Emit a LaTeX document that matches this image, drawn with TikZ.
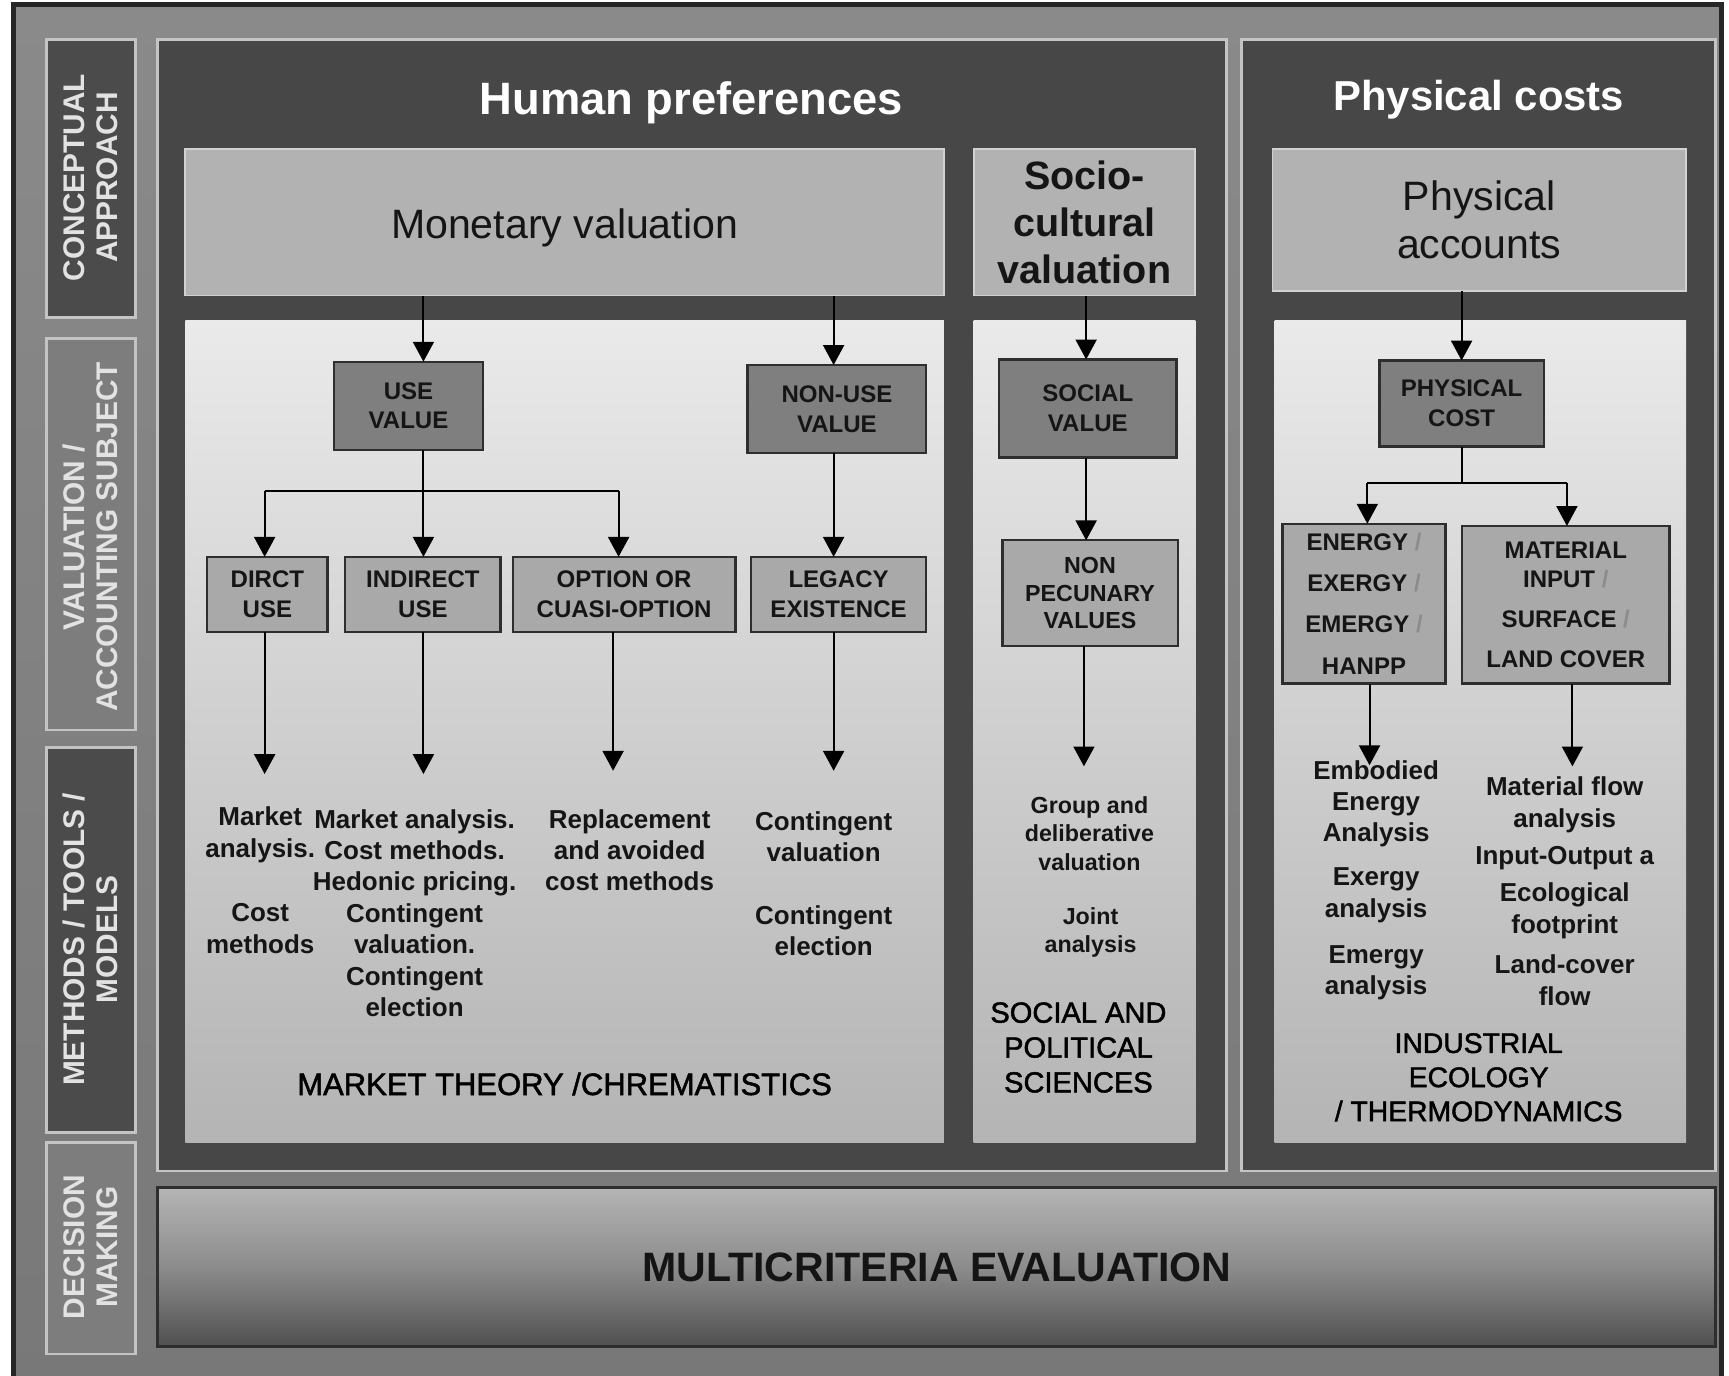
\documentclass[tikz,border=0pt]{standalone}
\usepackage{fontspec}
\setmainfont{Liberation Sans}
\newfontfamily\heavyfont[FakeBold=1.6]{Liberation Sans}
\usetikzlibrary{arrows.meta,calc}
\definecolor{outertop}{HTML}{8A8A8A}
\definecolor{outerbot}{HTML}{787878}
\definecolor{darkpanel}{HTML}{474747}
\definecolor{panelline}{HTML}{C4C4C4}
\definecolor{titlefill}{HTML}{B2B2B2}
\definecolor{titleline}{HTML}{D2D2D2}
\definecolor{lighttop}{HTML}{EAEAEA}
\definecolor{lightbot}{HTML}{B4B4B4}
\definecolor{nodedark}{HTML}{7F7F7F}
\definecolor{nodelight}{HTML}{A9A9A9}
\definecolor{nodeline}{HTML}{2E2E2E}
\definecolor{txt}{HTML}{151515}
\definecolor{vtext}{HTML}{E2E2E2}
\definecolor{lbdarkfill}{HTML}{4B4B4B}
\definecolor{lbmidfill}{HTML}{7D7D7D}
\definecolor{mctop}{HTML}{B5B5B5}
\definecolor{mcmid}{HTML}{8C8C8C}
\definecolor{mcbot}{HTML}{505050}
\definecolor{slashgray}{HTML}{8C8C8C}
\newcommand\fs[2]{\fontsize{#1}{#2}\selectfont}
\newcommand\boxnode[7]{%
  \node[#1, minimum width={(#5-#3)*0.1mm}, minimum height={(#6-#4)*0.1mm}] (#2) at ({(#3+#5)/2},{(#4+#6)/2}) {#7};}
\newcommand\slg{{\color{slashgray}/}}
\tikzset{
  panel/.style={draw=panelline, line width=0.7pt, fill=darkpanel},
  lbdark/.style={draw=panelline, line width=0.7pt, fill=lbdarkfill, inner sep=0pt, outer sep=0pt},
  lbmid/.style={draw=panelline, line width=0.7pt, fill=lbmidfill, inner sep=0pt, outer sep=0pt},
  titlebox/.style={draw=titleline, line width=0.5pt, fill=titlefill, inner sep=0pt, outer sep=0pt, align=center, text=txt},
  lightpanel/.style={top color=lighttop, bottom color=lightbot, draw=none},
  vbox/.style={draw=nodeline, line width=0.6pt, fill=nodedark, inner sep=0pt, outer sep=0pt, align=center, font=\bfseries\fs{6.2}{7.7}, text=txt},
  sbox/.style={vbox, fill=nodelight},
  mcbox/.style={draw=nodeline, line width=0.8pt, top color=mctop, bottom color=mcbot, middle color=mcmid, inner sep=0pt, outer sep=0pt, font=\bfseries\fs{10.6}{12}, text=black!92},
  arr/.style={line width=0.5pt, draw=black, -{Triangle[length=1.8mm,width=1.9mm]}},
  ln/.style={line width=0.5pt, draw=black},
  meth/.style={align=center, font=\bfseries\fs{6.7}{8.1}, text=txt, inner sep=0pt},
  vlab/.style={rotate=90, align=center, font=\bfseries\fs{7.7}{8.5}, text=vtext, inner sep=0pt},
  ptitle/.style={font=\bfseries\fs{11.7}{13}, text=white, inner sep=0pt},
  discip/.style={align=center, font=\heavyfont\fs{7.5}{9.0}, text=black, inner sep=0pt},
}
\begin{document}
\begin{tikzpicture}[x=0.1mm,y=-0.1mm]
\clip (0,0) rectangle (1568,1247);
\fill[white] (0,0) rectangle (1568,1247);
% outer frame
\path[draw=black!85, line width=1.2pt, top color=outertop, bottom color=outerbot] (12,4) rectangle (1561,1260);
% left label column
\boxnode{lbdark}{lb1}{42}{36}{123}{288}{}
\boxnode{lbmid}{lb2}{42}{307}{123}{662}{}
\boxnode{lbdark}{lb3}{42}{678}{123}{1027}{}
\boxnode{lbmid}{lb4}{42}{1036}{123}{1228}{}
\node[vlab] (lt1) at (82,161) {CONCEPTUAL\\APPROACH};
\node[vlab] (lt2) at (82,487) {VALUATION /\\ACCOUNTING SUBJECT};
\node[vlab] (lt3) at (82,852) {METHODS / TOOLS /\\MODELS};
\node[vlab] (lt4) at (82,1131) {DECISION\\MAKING};
% big panels
\path[panel] (143,36) rectangle (1112,1062);
\path[panel] (1126,36) rectangle (1556,1062);
\node[ptitle] (hp) at (627,93) {Human preferences};
\node[ptitle, font=\bfseries\fs{10.8}{13}] (pc) at (1341,90) {Physical costs};
% title boxes
\boxnode{titlebox, font=\fs{10.6}{12}}{monv}{168}{135}{856}{268}{\raisebox{-0.5mm}[\height][\depth]{Monetary valuation}}
\boxnode{titlebox, font=\bfseries\fs{10.2}{12.1}}{socv}{883}{135}{1084}{268}{Socio-\\cultural\\valuation}
\boxnode{titlebox, font=\fs{10.6}{12.5}}{phya}{1154}{135}{1529}{264}{Physical\\accounts}
% light panels
\path[lightpanel] (168,291) rectangle (856,1036);
\path[lightpanel] (883,291) rectangle (1084,1036);
\path[lightpanel] (1156,291) rectangle (1529,1036);
% multicriteria
\boxnode{mcbox}{mce}{143}{1077}{1556}{1221}{MULTICRITERIA EVALUATION}
% value nodes
\boxnode{vbox}{usev}{303}{328}{438}{408}{USE\\VALUE}
\boxnode{vbox}{nonuse}{678}{331}{840}{411}{NON-USE\\VALUE}
\boxnode{vbox}{socval}{906}{326}{1067}{415}{SOCIAL\\VALUE}
\boxnode{vbox}{phyc}{1251}{327}{1400}{405}{PHYSICAL\\COST}
\boxnode{sbox}{dirct}{188}{505}{297}{573}{DIRCT\\USE}
\boxnode{sbox}{indir}{313}{505}{454}{573}{INDIRECT\\USE}
\boxnode{sbox}{opt}{465}{505}{667}{573}{OPTION OR\\CUASI-OPTION}
\boxnode{sbox}{legacy}{681}{505}{840}{573}{LEGACY\\EXISTENCE}
\boxnode{sbox, font=\bfseries\fs{6.0}{7.1}}{nonpec}{909}{490}{1068}{586}{NON\\PECUNARY\\VALUES}
\boxnode{sbox, font=\bfseries\fs{6.2}{10.6}}{energy}{1163}{475}{1311}{620}{ENERGY \slg\\EXERGY \slg\\EMERGY \slg\\HANPP}
\boxnode{sbox}{material}{1326}{477}{1514}{620}{MATERIAL\\INPUT \slg\\[2.6pt]SURFACE \slg\\[2.6pt]LAND COVER}
% method texts
\node[meth] (m1a) at (236,757) {Market\\analysis.};
\node[meth] (m1b) at (236,842) {Cost\\methods};
\node[meth] (m2) at (376,828) {Market analysis.\\Cost methods.\\Hedonic pricing.\\Contingent\\valuation.\\Contingent\\election};
\node[meth] (m3) at (571,771) {Replacement\\and avoided\\cost methods};
\node[meth] (m4a) at (747,759) {Contingent\\valuation};
\node[meth] (m4b) at (747,844) {Contingent\\election};
\node[meth, font=\bfseries\fs{6.0}{7.25}] (s1) at (988,756) {Group and\\deliberative\\valuation};
\node[meth, font=\bfseries\fs{6.0}{7.25}] (s2) at (989,846) {Joint\\analysis};
\node[meth] (p1) at (1248,729) {Embodied\\Energy\\Analysis};
\node[meth] (p2) at (1248,812) {Exergy\\analysis};
\node[meth] (p3) at (1248,882) {Emergy\\analysis};
\node[meth] (q1) at (1419,730) {Material flow\\analysis};
\node[meth] (q2) at (1419,778) {Input-Output a};
\node[meth] (q3) at (1419,826) {Ecological\\footprint};
\node[meth] (q4) at (1419,889) {Land-cover\\flow};
% discipline labels
\node[discip, font=\heavyfont\fs{8.0}{9}] (mt) at (512,983) {MARKET THEORY /CHREMATISTICS};
\node[discip] (sp) at (978,950) {SOCIAL AND\\POLITICAL\\SCIENCES};
\node[discip, font=\heavyfont\fs{7.3}{8.8}] (ie) at (1341,977) {INDUSTRIAL\\ECOLOGY\\/ THERMODYNAMICS};
% connector x positions
\coordinate (xa) at (240,0);
\coordinate (xb) at (384,0);
\coordinate (xc) at (561,0);
\coordinate (xd) at (756,0);
\coordinate (xe) at (985,0);
\coordinate (xf) at (1325.5,0);
\coordinate (xg) at (1240,0);
\coordinate (xh) at (1421,0);
\coordinate (ub) at (384,445);
\coordinate (pb) at (1325.5,438);
\coordinate (ta) at (240,702);
\coordinate (tb) at (384,702);
\coordinate (tc) at (556,699);
\coordinate (td) at (756,699);
\coordinate (te) at (983,695);
\coordinate (tf) at (1242,694);
\coordinate (tg) at (1426,695);
% connectors
\draw[arr] (monv.south -| xb) -- (usev.north -| xb);
\draw[arr] (monv.south -| xd) -- (nonuse.north -| xd);
\draw[arr] (socv.south -| xe) -- (socval.north -| xe);
\draw[arr] (phya.south -| xf) -- (phyc.north -| xf);
\draw[arr] (usev.south -| xb) -- (indir.north -| xb);
\draw[ln] (ub -| xa) -- (ub -| xc);
\draw[arr] (ub -| xa) -- (dirct.north -| xa);
\draw[arr] (ub -| xc) -- (opt.north -| xc);
\draw[arr] (nonuse.south -| xd) -- (legacy.north -| xd);
\draw[arr] (socval.south -| xe) -- (nonpec.north -| xe);
\draw[ln] (phyc.south -| pb) -- (pb);
\draw[ln] (pb -| xg) -- (pb -| xh);
\draw[arr] (pb -| xg) -- (energy.north -| xg);
\draw[arr] (pb -| xh) -- (material.north -| xh);
\draw[arr] (dirct.south -| ta) -- (ta);
\draw[arr] (indir.south -| tb) -- (tb);
\draw[arr] (opt.south -| tc) -- (tc);
\draw[arr] (legacy.south -| td) -- (td);
\draw[arr] (nonpec.south -| te) -- (te);
\draw[arr] (energy.south -| tf) -- (tf);
\draw[arr] (material.south -| tg) -- (tg);
\end{tikzpicture}
\end{document}
